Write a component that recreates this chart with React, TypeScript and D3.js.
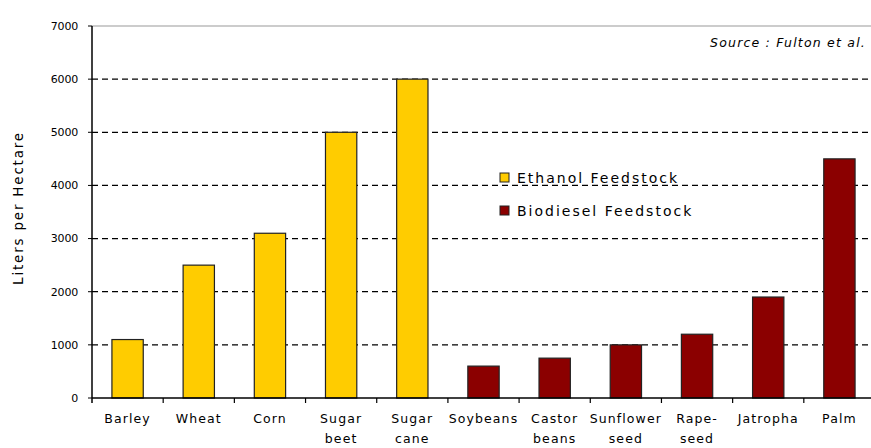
import React from "react";
import * as d3 from "d3";

const categories = ["Barley", "Wheat", "Corn", "Sugar beet", "Sugar cane", "Soybeans", "Castor beans", "Sunflower seed", "Rape- seed", "Jatropha", "Palm"];
const labelLines = [["Barley"], ["Wheat"], ["Corn"], ["Sugar", "beet"], ["Sugar", "cane"], ["Soybeans"], ["Castor", "beans"], ["Sunflower", "seed"], ["Rape-", "seed"], ["Jatropha"], ["Palm"]];
const values = [1100, 2500, 3100, 5000, 6000, 600, 750, 1000, 1200, 1900, 4500];
const seriesOf = ["Ethanol", "Ethanol", "Ethanol", "Ethanol", "Ethanol", "Biodiesel", "Biodiesel", "Biodiesel", "Biodiesel", "Biodiesel", "Biodiesel"];
const yTicks = [0, 1000, 2000, 3000, 4000, 5000, 6000, 7000];
const legendItems = [{ key: "Ethanol", label: "Ethanol Feedstock" }, { key: "Biodiesel", label: "Biodiesel Feedstock" }];

const colors: Record<string, string> = { Ethanol: "#FFCC00", Biodiesel: "#8B0000" };

export default function App() {
  const W = 871, H = 448;
  const left = 92, right = 875, top = 26, bottom = 398;
  const x = d3.scaleBand<string>().domain(categories).range([left, right]).paddingInner(0.56).paddingOuter(0.28);
  const xb = d3.scaleBand<string>().domain(categories).range([left, right]);
  const y = d3.scaleLinear().domain([0, 7000]).range([bottom, top]);
  const font = "'DejaVu Sans', sans-serif";
  return (
    <svg width={W} height={H} style={{ position: "absolute", left: 0, top: 0, background: "#fff" }} fontFamily={font}>
      {yTicks.map((t) => (
        <g key={t}>
          {t > 0 && t < 7000 && (
            <line x1={left} x2={W} y1={y(t)} y2={y(t)} stroke="#000" strokeWidth={1.2} strokeDasharray="6,4" />
          )}
          <line x1={left - 4} x2={left} y1={y(t)} y2={y(t)} stroke="#000" />
          <text x={left - 14} y={y(t)} dy="0.35em" textAnchor="end" fontSize={11} letterSpacing={-0.2} fill="#000">{t}</text>
        </g>
      ))}
      <line x1={left} x2={W} y1={y(7000)} y2={y(7000)} stroke="#999" strokeWidth={1} />
      {categories.map((c, i) => (
        <rect key={c} x={x(c)} y={y(values[i])} width={x.bandwidth()} height={bottom - y(values[i])}
          fill={colors[seriesOf[i]]} stroke="#222" strokeWidth={1.2} />
      ))}
      <line x1={left} x2={left} y1={top} y2={bottom + 5} stroke="#000" strokeWidth={1.5} />
      <line x1={left} x2={W} y1={bottom} y2={bottom} stroke="#000" strokeWidth={1.5} />
      {categories.map((c) => (
        <line key={"t" + c} x1={(xb(c) as number) + xb.bandwidth()} x2={(xb(c) as number) + xb.bandwidth()} y1={bottom} y2={bottom + 5} stroke="#000" strokeWidth={1.2} />
      ))}
      {categories.map((c, i) => (
        <text key={"l" + c} x={(x(c) as number) + x.bandwidth() / 2} y={423} textAnchor="middle" fontSize={12.5} letterSpacing={1.1} fill="#000">
          {labelLines[i].map((ln, j) => (
            <tspan key={j} x={(x(c) as number) + x.bandwidth() / 2} dy={j === 0 ? 0 : 20}>{ln}</tspan>
          ))}
        </text>
      ))}
      <text transform={`translate(23,208) rotate(-90)`} textAnchor="middle" fontSize={13.5} letterSpacing={1.8} fill="#000">Liters per Hectare</text>
      <text x={866} y={43} dy="0.35em" textAnchor="end" fontSize={12.5} letterSpacing={1.2} fontStyle="italic" fill="#000">Source : Fulton et al.</text>
      {legendItems.map((it, i) => (
        <g key={it.key} transform={`translate(500,${173 + i * 33})`}>
          <rect x={0} y={0} width={9} height={9} fill={colors[it.key]} stroke="#222" strokeWidth={1} />
          <text x={17} y={5} dy="0.35em" fontSize={14} letterSpacing={2} fill="#000">{it.label}</text>
        </g>
      ))}
    </svg>
  );
}
